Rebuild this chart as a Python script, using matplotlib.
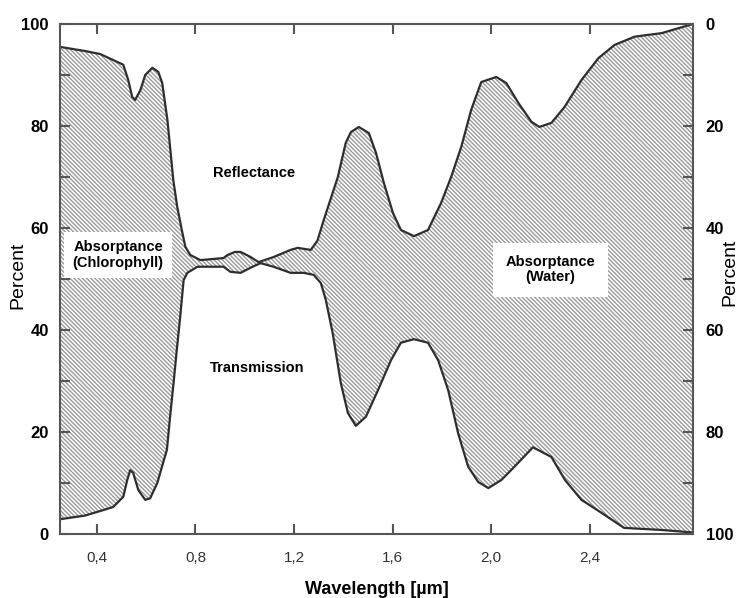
import numpy as np
import matplotlib.pyplot as plt
import matplotlib as mpl

# upper boundary (100 - reflectance) in percent
upper_wl = [0.25, 0.35, 0.413, 0.507, 0.527, 0.543, 0.555, 0.576, 0.596, 0.625, 0.649,
            0.665, 0.686, 0.698, 0.710, 0.726, 0.747, 0.759, 0.779, 0.820, 0.914, 0.930,
            0.960, 0.983, 1.024, 1.056, 1.117, 1.186, 1.215, 1.268, 1.295, 1.321, 1.378,
            1.410, 1.431, 1.463, 1.504, 1.533, 1.565, 1.602, 1.634, 1.687, 1.744, 1.797,
            1.838, 1.879, 1.919, 1.960, 2.021, 2.062, 2.111, 2.164, 2.196, 2.245, 2.298,
            2.367, 2.436, 2.502, 2.583, 2.693, 2.82]
upper_pct = [95.5, 94.7, 94.1, 92.0, 89.0, 85.7, 85.1, 87.0, 90.0, 91.4, 90.6,
             88.4, 81.2, 75.3, 69.4, 64.1, 59.0, 56.3, 54.7, 53.7, 54.1, 54.7,
             55.3, 55.3, 54.3, 53.3, 54.3, 55.7, 56.1, 55.7, 57.5, 61.6, 70.0,
             76.7, 78.8, 79.8, 78.6, 74.7, 68.8, 62.9, 59.6, 58.4, 59.6, 64.9,
             70.0, 75.9, 83.1, 88.6, 89.6, 88.4, 84.5, 80.8, 79.8, 80.6, 83.7,
             89.0, 93.3, 95.9, 97.5, 98.2, 100.0]

# lower boundary (transmission) in percent
lower_wl = [0.25, 0.35, 0.413, 0.466, 0.507, 0.523, 0.535, 0.547, 0.568, 0.596, 0.616,
            0.645, 0.664, 0.684, 0.697, 0.711, 0.724, 0.738, 0.752, 0.767, 0.808, 0.914,
            0.942, 0.983, 1.032, 1.064, 1.117, 1.186, 1.239, 1.280, 1.309, 1.329, 1.357,
            1.390, 1.419, 1.451, 1.492, 1.541, 1.594, 1.634, 1.687, 1.744, 1.785, 1.826,
            1.866, 1.907, 1.948, 1.989, 2.042, 2.095, 2.17, 2.245, 2.30, 2.367, 2.45,
            2.54, 2.69, 2.82]
lower_pct = [2.9, 3.6, 4.5, 5.3, 7.3, 10.6, 12.5, 12.0, 8.6, 6.7, 7.0,
             10.0, 13.2, 16.5, 23.0, 29.6, 36.0, 42.6, 49.8, 51.2, 52.4, 52.4,
             51.4, 51.2, 52.4, 53.1, 52.4, 51.2, 51.2, 50.8, 49.2, 45.9, 39.4,
             29.6, 23.7, 21.2, 23.0, 28.2, 34.1, 37.5, 38.2, 37.5, 34.1, 28.2,
             19.8, 13.2, 10.2, 9.0, 10.6, 13.2, 17.0, 15.1, 10.6, 6.7, 4.1,
             1.2, 0.8, 0.3]

x_ticks = [0.4, 0.8, 1.2, 1.6, 2.0, 2.4]
x_tick_labels = ['0,4', '0,8', '1,2', '1,6', '2,0', '2,4']

mpl.rcParams['font.family'] = ['Liberation Sans', 'DejaVu Sans']
mpl.rcParams['hatch.color'] = '#9a9a9a'
mpl.rcParams['hatch.linewidth'] = 1.0

fig = plt.figure(figsize=(7.39, 5.98), dpi=100)
ax = fig.add_axes([0.0812, 0.107, 0.8566, 0.853])

# hatched absorptance band between the two curves
grid = np.union1d(upper_wl, lower_wl)
up = np.interp(grid, upper_wl, upper_pct)
lo = np.interp(grid, lower_wl, lower_pct)
ax.fill_between(grid, lo, up, facecolor='white', edgecolor='#9a9a9a',
                hatch='\\' * 8, lw=0)
ax.plot(upper_wl, upper_pct, color='#2e2e2e', lw=1.6)
ax.plot(lower_wl, lower_pct, color='#2e2e2e', lw=1.6)

ax.set_xlim(0.25, 2.82)
ax.set_ylim(0, 100)

for s in ax.spines.values():
    s.set_color('#555555')
    s.set_linewidth(1.5)

ax.set_xticks(x_ticks)
ax.set_xticklabels(x_tick_labels, fontsize=11, color='#333333')
ax.set_yticks([0, 20, 40, 60, 80, 100])
ax.set_yticks([10, 30, 50, 70, 90], minor=True)
ax.tick_params(axis='y', labelsize=12, direction='in', length=7, width=1.5,
               color='#555555', pad=8)
ax.tick_params(axis='y', which='minor', direction='in', length=7, width=1.5, color='#555555')
ax.tick_params(axis='x', direction='in', length=7, width=1.5, color='#555555',
               top=True, pad=12)
for lab in ax.get_yticklabels():
    lab.set_fontweight('bold')

ax2 = ax.twinx()
ax2.set_ylim(100, 0)
ax2.set_yticks([0, 20, 40, 60, 80, 100])
ax2.set_yticks([10, 30, 50, 70, 90], minor=True)
ax2.tick_params(axis='y', labelsize=12, direction='in', length=7, width=1.5,
                color='#555555', pad=9)
ax2.tick_params(axis='y', which='minor', direction='in', length=7, width=1.5, color='#555555')
for lab in ax2.get_yticklabels():
    lab.set_fontweight('bold')
for s in ax2.spines.values():
    s.set_visible(False)

fig.text(0.024, 0.54, 'Percent', fontsize=14, rotation=90, ha='center', va='center')
fig.text(0.988, 0.545, 'Percent', fontsize=14, rotation=90, ha='center', va='center')
ax.set_xlabel('Wavelength [µm]', fontsize=13, fontweight='bold', labelpad=12)

ax.text(1.036, 70.8, 'Reflectance', fontsize=10.5, fontweight='bold',
        ha='center', va='center')
ax.text(1.05, 32.5, 'Transmission', fontsize=10.5, fontweight='bold',
        ha='center', va='center')
ax.text(0.486, 54.7, 'Absorptance\n(Chlorophyll)', fontsize=10.5, fontweight='bold',
        ha='center', va='center', linespacing=1.1,
        bbox=dict(facecolor='white', edgecolor='none', pad=6))
ax.text(2.24, 51.8, 'Absorptance\n(Water)', fontsize=10.5, fontweight='bold',
        ha='center', va='center', linespacing=1.1,
        bbox=dict(facecolor='white', edgecolor='none', pad=9))

fig.savefig('out.png', dpi=100)
